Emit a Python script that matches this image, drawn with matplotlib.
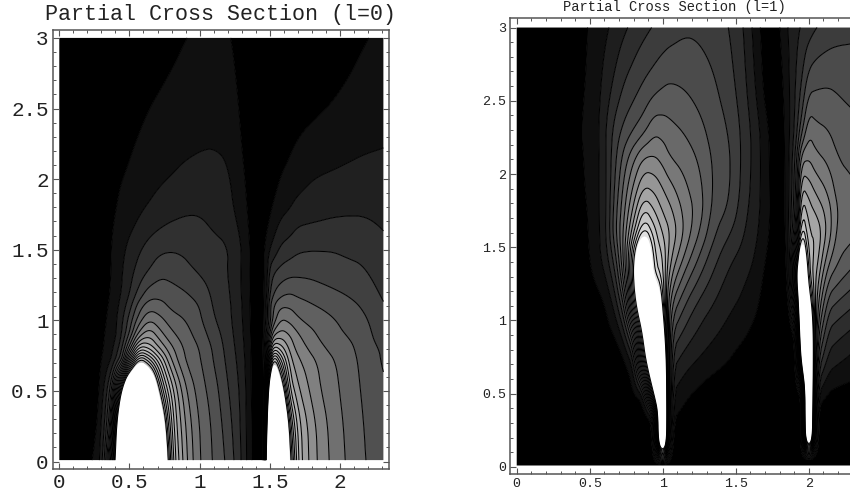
import numpy as np
import matplotlib
matplotlib.use("Agg")
import matplotlib.pyplot as plt
from matplotlib.ticker import MultipleLocator

plt.rcParams['font.family'] = ['Liberation Mono', 'DejaVu Sans']

# l=0 panel, grid, z counted in contour steps
x_l0 = [0, .25, .29, .33, .37, .41, .45, .50, .57, .64, .72, .80, .90, 1.0, 1.1, 1.2,
        1.3, 1.37, 1.42, 1.455, 1.475, 1.50, 1.53, 1.58, 1.64, 1.70, 1.78, 1.85, 1.95, 2.05, 2.17, 2.31]
y_l0 = [.01, .25, .5, .7, .8, .9, 1.0, 1.1, 1.2, 1.35, 1.5, 1.75, 2.0, 2.25, 2.6, 3.0]
z_l0 = [
    [0, .9, 2, 4.5, 10.7, 20, 26, 30, 30, 30, 26, 13, 9.2, 7, 5.9, 4.8, 3, 1, 0, .5, 19, 26, 28, 28, 18, 11.75, 9.9, 8.8, 7.7, 6.9, 6, 5.6],
    [0, .6, 1.7, 3.3, 7, 18, 26, 30, 30, 30, 22, 12.4, 8.9, 6.9, 5.8, 4.5, 2.9, 1, 0, .4, 15, 26, 28, 28, 16, 11.5, 9.8, 8.7, 7.6, 6.8, 5.95, 5.45],
    [0, 0, 1.3, 2.5, 4.7, 11, 19, 28, 30, 26, 16, 11.6, 8.1, 6.5, 5.5, 4.1, 2.8, .9, 0, .6, 10, 21, 25, 20, 12, 10.2, 9, 8.1, 7.35, 6.6, 5.85, 5.2],
    [0, 0, .9, 1.5, 2.1, 3.5, 5.5, 12, 19, 16.3, 12.5, 9, 6.9, 6.15, 5, 3.8, 2.55, .9, 0, .9, 6, 13, 19, 14.5, 10.6, 9.3, 8.5, 7.9, 7.1, 6.55, 5.7, 4.9],
    [0, 0, .7, 1.2, 1.7, 2.6, 4, 7.4, 12.5, 11.8, 9.8, 8.2, 6.75, 6, 4.85, 3.65, 2.4, .9, 0, .9, 4, 9, 12.5, 11.5, 9.8, 8.6, 7.9, 7.3, 6.7, 6.4, 5.5, 4.85],
    [0, 0, .6, 1.1, 1.5, 2, 3.2, 5, 8.5, 9.8, 8.3, 7.2, 6.4, 5.55, 4.5, 3.5, 2.25, .85, 0, .9, 3, 6, 8.8, 9.5, 9, 8.1, 7.4, 6.85, 6.3, 5.95, 5.45, 4.4],
    [0, 0, .4, .95, 1.4, 2, 2.9, 4.4, 6.6, 8, 7.3, 6.5, 6, 5.2, 4.1, 3.35, 2.15, .85, 0, .9, 2.2, 4.5, 6.5, 8.1, 7.8, 7.15, 6.7, 6.55, 6.1, 5.7, 5.2, 4.3],
    [0, 0, .3, .85, 1.2, 1.8, 2.5, 3.6, 5.6, 6.6, 6.4, 5.75, 5.45, 5.05, 3.85, 3.3, 2.1, .8, 0, .9, 2, 4.8, 6.1, 6.9, 6.9, 6.5, 6.2, 5.95, 5.6, 5.3, 4.9, 4.1],
    [0, 0, .2, .7, 1.1, 1.6, 2.1, 2.9, 4.3, 5.4, 5.6, 5.35, 5.05, 4.55, 3.75, 3.2, 2, .8, 0, .9, 1.6, 3.8, 4.9, 5.6, 5.9, 5.7, 5.5, 5.3, 5.1, 4.9, 4.6, 3.8],
    [0, 0, 0, .5, 1.05, 1.4, 2, 2.6, 3.4, 4, 4.7, 4.6, 4.2, 3.85, 3.5, 3.05, 2, .75, 0, .9, 1.3, 3.2, 3.9, 4.3, 4.6, 4.7, 4.7, 4.65, 4.5, 4.3, 4.1, 3.4],
    [0, 0, 0, .3, 1.05, 1.4, 1.8, 2.3, 2.9, 3.4, 3.8, 3.95, 3.85, 3.6, 3.3, 3.15, 2.05, .8, 0, .9, 1.4, 1.9, 2.4, 3.2, 3.5, 3.85, 3.95, 3.95, 3.95, 3.8, 3.7, 3.25],
    [0, 0, 0, .3, .8, 1.1, 1.3, 1.5, 1.9, 2.2, 2.5, 2.75, 2.95, 2.98, 2.7, 2.35, 1.6, .6, 0, 0, .5, .9, 1.3, 1.8, 2.1, 2.55, 2.65, 2.75, 2.88, 2.95, 2.95, 2.78],
    [0, 0, 0, .1, .4, .8, 1.03, 1.2, 1.45, 1.65, 1.87, 2.05, 2.3, 2.35, 2.35, 2.2, 1.3, .4, 0, 0, 0, .3, .6, 1.05, 1.25, 1.55, 1.9, 2.05, 2.15, 2.25, 2.35, 2.35],
    [0, 0, 0, 0, .1, .3, .5, .85, 1.1, 1.25, 1.4, 1.55, 1.75, 1.9, 1.95, 1.8, 1, .3, 0, 0, 0, 0, .1, .6, .85, 1.05, 1.25, 1.4, 1.55, 1.7, 1.85, 1.95],
    [0, 0, 0, 0, 0, .1, .2, .35, .7, .9, 1.05, 1.2, 1.35, 1.45, 1.45, 1.35, .85, .2, 0, 0, 0, 0, 0, .1, .3, .45, .6, .7, .9, 1.1, 1.3, 1.45],
    [0, 0, 0, 0, 0, 0, 0, 0, .15, .35, .55, .75, 1, 1.1, 1.15, 1.1, .7, .1, 0, 0, 0, 0, 0, 0, 0, .05, .15, .3, .5, .7, .95, 1.15],
]

# l=1 panel, each list is one column of the grid (x fixed, y rising)
x_l1 = [0, .47, .50, .57, .62, .68, .74, .80, .87, .94, 1.0, 1.05, 1.15, 1.25, 1.35, 1.45, 1.55, 1.65,
        1.72, 1.80, 1.86, 1.91, 1.95, 2.0, 2.05, 2.13, 2.2, 2.29]
y_l1 = [.01, .05, .2, .35, .5, .7, .9, 1.1, 1.3, 1.45, 1.6, 1.75, 1.9, 2.1, 2.3, 2.6, 3.0]
z_l1_cols = [
    [0] * 17,
    [0, 0, 0, 0, 0, 0, 0, 0, .5, .7, .85, .9, .95, .97, 1, .95, .9],
    [0, 0, 0, 0, 0, 0, 0, .1, .8, 1.05, 1.1, 1.15, 1.2, 1.25, 1.35, 1.2, 1.1],
    [0, 0, 0, 0, 0, 0, 0, .6, 1.5, 1.9, 1.95, 2, 2, 2, 2.05, 1.9, 1.6],
    [0, 0, 0, 0, 0, 0, .6, 1.2, 2.2, 2.9, 3.3, 3.2, 3.2, 3.2, 3.25, 2.55, 1.9],
    [0, 0, 0, 0, 0, 0, 1.1, 2.5, 3.9, 5, 6, 5.8, 5.4, 5, 4.5, 3.35, 2.4],
    [0, 0, 0, 0, 0, .7, 2.6, 5.2, 8, 8.8, 8.5, 8, 7.5, 6.6, 5.3, 4.1, 2.85],
    [0, 0, 0, 0, .8, 2, 6, 13, 15.4, 14.5, 11.8, 10.3, 9.2, 7.9, 5.9, 4.55, 3.3],
    [0, 0, 0, 0, 1.7, 12, 16.5, 22, 24, 22, 15.6, 13.2, 11.1, 9.2, 6.6, 5.1, 3.7],
    [0, 0, 0, 1.8, 16, 24, 28, 24, 15, 14, 13.5, 12, 10.8, 9.2, 7.75, 5.5, 4.1],
    [0, 8, 32, 32, 30, 26, 19, 14.5, 13.5, 13, 11.9, 10.9, 10, 8.7, 7.6, 5.9, 4.3],
    [0, 0, 0, 1.35, 2.1, 3.4, 5, 7, 9.15, 10.35, 11, 10.25, 9.35, 8, 7.3, 6.1, 4.5],
    [0, 0, 0, .6, 1.25, 2.3, 3.6, 4.9, 6.6, 7.95, 8.8, 8.7, 8.2, 7.6, 6.9, 5.9, 4.85],
    [0, 0, 0, .2, .7, 1.75, 2.7, 3.65, 5, 6, 7, 7.5, 7.35, 6.9, 6.3, 5.55, 4.8],
    [0, 0, 0, 0, .3, 1.3, 2.1, 2.9, 3.75, 4.45, 5.15, 5.6, 5.8, 5.8, 5.55, 5.15, 4.5],
    [0, 0, 0, 0, 0, .95, 1.6, 2.2, 2.8, 3.35, 4.15, 4.9, 5.2, 5.25, 5, 4.45, 4.05],
    [0, 0, 0, 0, 0, .3, 1.2, 1.75, 2.2, 2.7, 3.1, 3.4, 3.65, 3.75, 3.75, 3.4, 3.1],
    [0, 0, 0, 0, 0, 0, .5, 1.15, 1.55, 1.8, 2.05, 2.2, 2.3, 2.35, 2.3, 1.7, 1.3],
    [0, 0, 0, 0, 0, 0, 0, 0, .5, .85, 1.1, 1.2, 1.15, 1.1, 1, .3, .1],
    [0, 0, 0, 0, 0, 0, 0, 0, 0, 0, 0, 0, 0, .1, .2, .5, .9],
    [0, 0, 0, 0, 0, 0, 0, .3, .9, 1.3, 1.6, 1.7, 1.7, 1.7, 1.7, 1.8, 2.1],
    [0, 0, 0, 0, 0, 0, 1, 7, 13, 9.5, 6.2, 5, 4.6, 4.2, 3.3, 3.05, 2.7],
    [0, 0, 0, 0, .5, 16, 22, 24, 26, 20, 15, 13, 11.1, 8.8, 5.5, 4, 3.1],
    [0, 0, 28, 32, 32, 30, 26, 18, 13, 12.5, 12, 11.5, 10.5, 9, 7.8, 5.6, 3.5],
    [0, 0, 0, .3, 2.2, 5, 7.6, 9.6, 11, 11.8, 12, 10.8, 9.7, 8.3, 7.25, 5.9, 4],
    [0, 0, 0, 0, .9, 2.4, 3.7, 5.3, 7.25, 8.65, 9.7, 9.6, 8.8, 7.8, 7, 6, 4.4],
    [0, 0, 0, 0, .65, 2, 3.2, 4.7, 6.4, 7.2, 7.6, 7.8, 7.5, 7, 6.5, 5.9, 4.6],
    [0, 0, 0, 0, .55, 1.6, 2.7, 4.1, 5.65, 6.65, 7.3, 7.5, 7.2, 6.75, 6.35, 5.65, 4.75],
]

x_ticks = [0, .5, 1, 1.5, 2]
x_labels = ['0', '0.5', '1', '1.5', '2']
y_ticks = [0, .5, 1, 1.5, 2, 2.5, 3]
y_labels = ['0', '0.5', '1', '1.5', '2', '2.5', '3']

W, H = 850, 492
FRAME = '#555555'


def cut_corners(a, axis):
    # corner cutting along one axis, keeps the end rows, rounds the contour polygons
    a = np.moveaxis(a, axis, 0)
    q = .75 * a[:-1] + .25 * a[1:]
    r = .25 * a[:-1] + .75 * a[1:]
    mid = np.empty((2 * len(q),) + a.shape[1:])
    mid[0::2] = q
    mid[1::2] = r
    return np.moveaxis(np.concatenate([a[:1], mid, a[-1:]]), 0, axis)


def panel(box, xlim, ylim, x, y, z, n_levels, gray_step, gray_top, title, title_x, title_pad, fs):
    left, top, right, bottom = box
    ax = fig.add_axes([left / W, 1 - bottom / H, (right - left) / W, (bottom - top) / H])
    x = np.array(x, dtype=float)
    y = np.array(y, dtype=float)
    z = np.array(z, dtype=float)
    for i in range(3):
        x = cut_corners(x, 0)
        y = cut_corners(y, 0)
        z = cut_corners(cut_corners(z, 0), 1)
    levels = [-1] + list(range(1, n_levels + 1)) + [100]
    grays = [min(i * gray_step, gray_top) for i in range(n_levels)] + [1.0]
    colors = [(g, g, g) for g in grays]
    ax.contourf(x, y, z, levels=levels, colors=colors, antialiased=True)
    ax.contour(x, y, z, levels=list(range(1, n_levels)), colors='black', linewidths=0.75)
    ax.set_xlim(xlim)
    ax.set_ylim(ylim)
    ax.set_xticks(x_ticks, x_labels, fontsize=fs)
    ax.set_yticks(y_ticks, y_labels, fontsize=fs)
    ax.xaxis.set_minor_locator(MultipleLocator(0.1))
    ax.yaxis.set_minor_locator(MultipleLocator(0.1))
    ax.tick_params(which='major', direction='in', length=4, width=0.8, color=FRAME,
                   top=True, right=True, pad=3, labelcolor='#222222')
    ax.tick_params(which='minor', direction='in', length=2, width=0.7, color=FRAME,
                   top=True, right=True)
    for s in ax.spines.values():
        s.set_color(FRAME)
        s.set_linewidth(1.1)
    ax.set_title(title, x=title_x, fontsize=title_fs[fs], pad=title_pad, color='#222222')
    return ax


title_fs = {15: 15.6, 9.6: 9.9}
fig = plt.figure(figsize=(W / 100, H / 100), dpi=100)

panel((52.7, 30, 389, 469), (-.047, 2.35), (-.053, 3.056), x_l0, y_l0, z_l0, 18, 1 / 16, .72,
      'Partial Cross Section (l=0)', 0.5, 7, 15)
panel((510, 18.3, 860, 474), (-.046, 2.35), (-.048, 3.063), x_l1, y_l1, np.array(z_l1_cols).T, 16, 1 / 17, .88,
      'Partial Cross Section (l=1)', 0.47, 5.5, 9.6)

fig.savefig('out.png', dpi=100)
